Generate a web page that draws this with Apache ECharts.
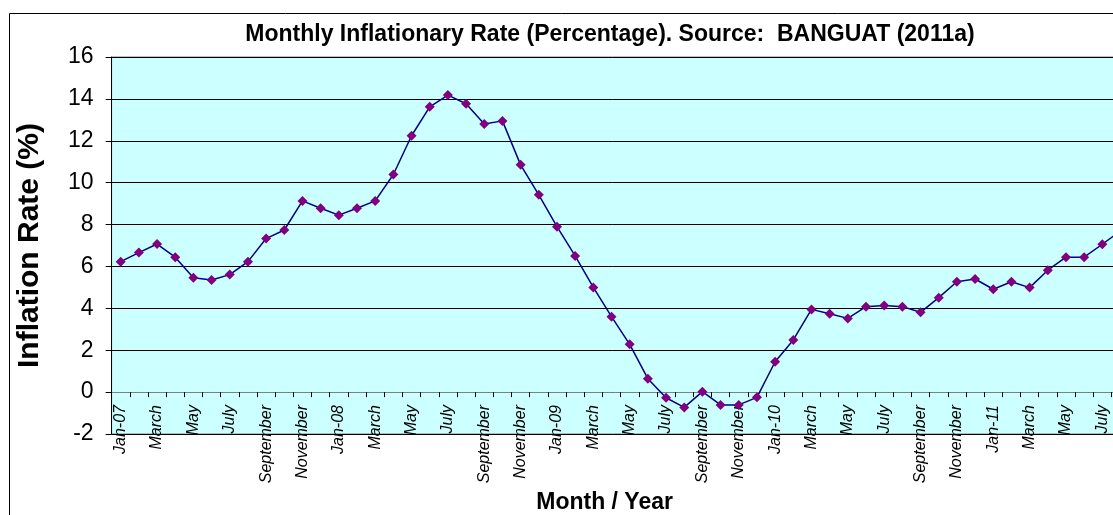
<!DOCTYPE html>
<html>
<head>
<meta charset="utf-8">
<title>Monthly Inflationary Rate</title>
<script src="https://cdn.jsdelivr.net/npm/echarts@6/dist/echarts.min.js"></script>
<style>
  html, body { margin: 0; padding: 0; background: #fff; }
  #chart { width: 1113px; height: 515px; }
</style>
</head>
<body>
<div id="chart"></div>
<script>
// month labels, Jan-07 .. Aug-11 (last one runs off the right edge)
const months = [
  'Jan-07', 'Feb', 'March', 'Apr', 'May', 'Jun', 'July', 'Aug', 'September', 'Oct', 'November', 'Dec',
  'Jan-08', 'Feb', 'March', 'Apr', 'May', 'Jun', 'July', 'Aug', 'September', 'Oct', 'November', 'Dec',
  'Jan-09', 'Feb', 'March', 'Apr', 'May', 'Jun', 'July', 'Aug', 'September', 'Oct', 'November', 'Dec',
  'Jan-10', 'Feb', 'March', 'Apr', 'May', 'Jun', 'July', 'Aug', 'September', 'Oct', 'November', 'Dec',
  'Jan-11', 'Feb', 'March', 'Apr', 'May', 'Jun', 'July', 'Aug'
];

// inflation rate (%)
const inflation = [
  6.23, 6.66, 7.07, 6.44, 5.46, 5.35, 5.61, 6.23, 7.33, 7.74, 9.13, 8.78,
  8.45, 8.78, 9.13, 10.39, 12.24, 13.62, 14.18, 13.77, 12.80, 12.95, 10.85, 9.42,
  7.90, 6.50, 5.00, 3.60, 2.28, 0.64, -0.27, -0.73, 0.02, -0.61, -0.61, -0.25,
  1.45, 2.49, 3.95, 3.74, 3.52, 4.08, 4.14, 4.08, 3.81, 4.51, 5.27, 5.40,
  4.91, 5.27, 4.99, 5.82, 6.44, 6.44, 7.06, 7.70
];

const yMin = -2;
const yMax = 16;
const yStep = 2;

const font = '"Liberation Sans", Arial, sans-serif';

const chart = echarts.init(document.getElementById('chart'), null, { renderer: 'canvas' });

const option = {
  animation: false,
  backgroundColor: '#ffffff',
  title: {
    text: 'Monthly Inflationary Rate (Percentage). Source:  BANGUAT (2011a)',
    left: 605,
    textAlign: 'center',
    top: 18,
    textStyle: { fontFamily: font, fontSize: 23, fontWeight: 'bold', color: '#000' }
  },
  graphic: [
    {
      type: 'rect',
      shape: { x: 9.5, y: 13.5, width: 1200, height: 600 },
      style: { fill: 'none', stroke: '#000', lineWidth: 1 },
      silent: true
    }
  ],
  grid: {
    left: 111.6,
    right: -16.6,
    top: 57,
    bottom: 81,
    outerBoundsMode: 'none',
    containLabel: false,
    show: true,
    backgroundColor: '#CCFFFF',
    borderColor: '#808080',
    borderWidth: 1
  },
  xAxis: {
    type: 'category',
    data: months,
    boundaryGap: true,
    name: 'Month / Year',
    nameLocation: 'middle',
    nameGap: 55,
    // plot runs past the right edge, so pull the name back to the visible centre
    nameTextStyle: { fontFamily: font, fontSize: 23, fontWeight: 'bold', color: '#000', padding: [0, 32, 0, 0] },
    axisLine: { onZero: true, lineStyle: { color: '#808080', width: 1 } },
    axisTick: { show: true, interval: 0, length: 5, lineStyle: { color: '#000' } },
    axisLabel: {
      interval: 1,
      rotate: 90,
      margin: -29,
      fontFamily: font,
      fontSize: 16,
      fontStyle: 'italic',
      color: '#000'
    },
    splitLine: { show: false }
  },
  yAxis: {
    type: 'value',
    min: yMin,
    max: yMax,
    interval: yStep,
    name: 'Inflation Rate (%)',
    nameLocation: 'middle',
    nameRotate: 90,
    nameGap: 67,
    nameTextStyle: { fontFamily: font, fontSize: 30, fontWeight: 'bold', color: '#000' },
    axisLine: { show: true, lineStyle: { color: '#000', width: 1 } },
    axisTick: { show: true, length: 6, lineStyle: { color: '#000' } },
    axisLabel: { margin: 18, fontFamily: font, fontSize: 23, color: '#000' },
    splitLine: { show: true, lineStyle: { color: '#000', width: 1 } }
  },
  series: [
    {
      name: 'Inflation',
      type: 'line',
      data: inflation,
      symbol: 'diamond',
      symbolSize: 10,
      itemStyle: { color: '#800080' },
      lineStyle: { color: '#000080', width: 1.5 },
      z: 5
    }
  ]
};

chart.setOption(option);
</script>
</body>
</html>
